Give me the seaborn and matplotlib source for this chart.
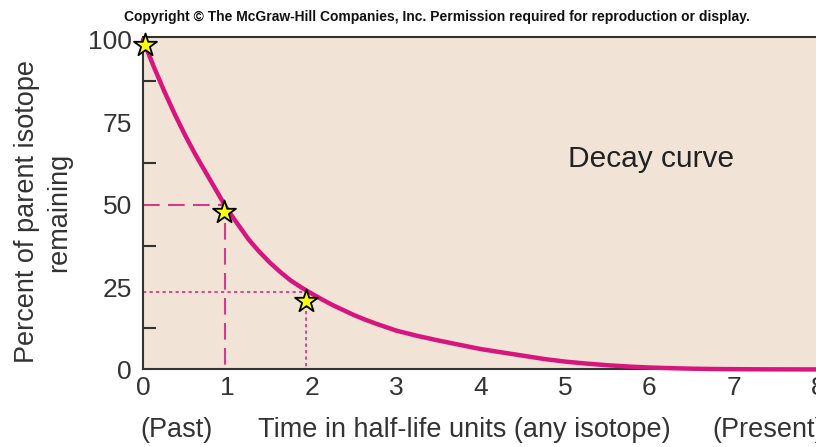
import numpy as np
import pandas as pd
import matplotlib
matplotlib.use("Agg")
import matplotlib.pyplot as plt
import seaborn as sns

# decay curve (time in half-lives, percent remaining)
half_lives = [0, 0.125, 0.25, 0.375, 0.5, 0.625, 0.75, 0.875, 1.0, 1.125,
              1.25, 1.375, 1.5, 1.625, 1.75, 1.875, 2.0, 2.125, 2.25, 2.375,
              2.5, 2.625, 2.75, 2.875, 3.0, 3.25, 3.5, 3.75, 4.0, 4.25, 4.5,
              4.75, 5.0, 5.25, 5.5, 5.75, 6.0, 6.25, 6.5, 6.75, 7.0, 7.25,
              7.5, 7.75, 8.0, 8.25, 8.5]
percent_left = [100, 92, 84.5, 77.5, 71, 65, 59.5, 54, 48.5, 44,
                39.5, 35.8, 32.5, 29.6, 27, 24.9, 23, 21.2, 19.5, 18,
                16.5, 15.2, 14, 12.9, 11.8, 10.2, 8.8, 7.5, 6.2, 5.2, 4.2,
                3.2, 2.4, 1.8, 1.3, 0.9, 0.6, 0.4, 0.25, 0.15, 0.1, 0.06,
                0.04, 0.03, 0.02, 0.01, 0.0]

# star markers
star_x = [0.02, 0.96, 1.93]
star_y = [98.5, 47.9, 20.8]

# guide lines
dash_x = [0, 0.97, 0.97]
dash_y = [50, 50, 0]
dot_x = [0, 1.93, 1.93]
dot_y = [23.5, 23.5, 0]

xticks = [0, 1, 2, 3, 4, 5, 6, 7, 8]
yticks = [0, 25, 50, 75, 100]
yminor = [12.5, 37.5, 62.5, 87.5]

curve_df = pd.DataFrame({"t": half_lives, "pct": percent_left})
star_df = pd.DataFrame({"t": star_x, "pct": star_y})

sns.set_style("white")
plt.rcParams["font.family"] = ["Liberation Sans", "DejaVu Sans"]

pink = "#d8147f"
ink = "#333333"

fig = plt.figure(figsize=(8.16, 4.47), dpi=100)
ax = fig.add_axes([0.1752, 0.1734, 0.879, 0.7445])
ax.set_facecolor("#f1e4d6")

ax.plot(dash_x, dash_y, color="#d63a8e", lw=1.5, linestyle=(0, (8, 4)), zorder=2)
ax.plot(dot_x, dot_y, color="#d63a8e", lw=1.3, linestyle=(0, (1.8, 1.8)), zorder=2)

sns.lineplot(data=curve_df, x="t", y="pct", ax=ax, color=pink, lw=3.2,
             estimator=None, zorder=3, clip_on=False,
             solid_joinstyle="round", solid_capstyle="round")
sns.scatterplot(data=star_df, x="t", y="pct", ax=ax, marker="*", s=300,
                color="#ffff00", edgecolor="black", linewidth=1.3,
                zorder=5, clip_on=False)

ax.set_xlim(0, 8.5)
ax.set_ylim(0, 100.9)
ax.set_xticks(xticks)
ax.set_yticks(yticks)
ax.set_yticks(yminor, minor=True)
ax.set_xlabel("")
ax.set_ylabel("")

ax.tick_params(axis="x", which="major", direction="in", length=12.5, width=1.5,
               color=ink, labelsize=19, labelcolor=ink, pad=5)
ax.tick_params(axis="y", which="major", direction="in", length=15, width=1.5,
               color=ink, labelsize=19, labelcolor=ink, pad=8)
ax.tick_params(axis="y", which="minor", direction="in", length=9.5, width=1.5,
               color=ink, left=True)

for side in ["left", "bottom", "top", "right"]:
    ax.spines[side].set_color(ink)
    ax.spines[side].set_linewidth(1.5)

ax.text(5.04, 63.8, "Decay curve", fontsize=21.5, color="#222222",
        ha="left", va="center")

fig.text(0.0527, 0.526, "Percent of parent isotope\nremaining", rotation=90,
         fontsize=19.5, color=ink, ha="center", va="center",
         multialignment="center", linespacing=1.3)
fig.text(176 / 816, 0.038, "(Past)", fontsize=19.5, color=ink,
         ha="center", va="center")
fig.text(464 / 816, 0.038, "Time in half-life units (any isotope)",
         fontsize=19.5, color=ink, ha="center", va="center")
fig.text(712 / 816, 0.038, "(Present)", fontsize=19.5, color=ink,
         ha="left", va="center")
fig.text(437 / 816, 0.962,
         "Copyright \u00a9 The McGraw-Hill Companies, Inc. Permission required for reproduction or display.",
         fontsize=10, fontweight="bold", color="#111111", ha="center", va="center")

fig.savefig("out.png", dpi=100)
